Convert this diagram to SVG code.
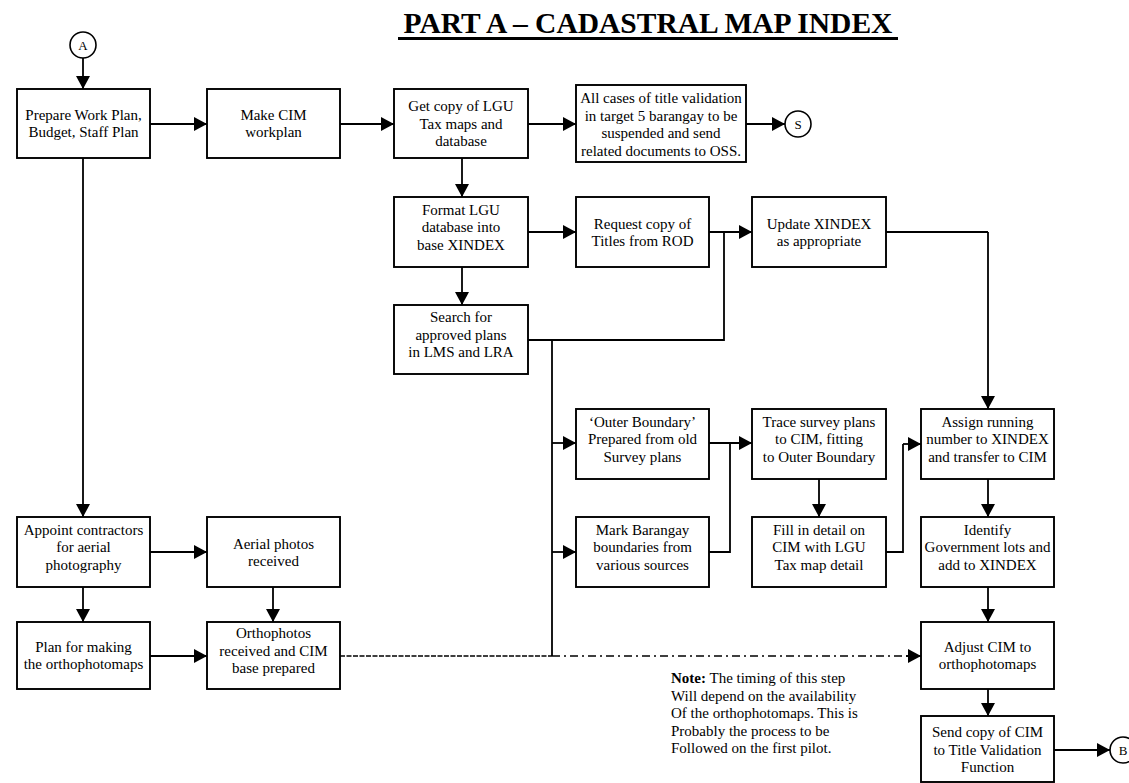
<svg xmlns="http://www.w3.org/2000/svg" width="1129" height="783" viewBox="0 0 1129 783">
  <style>
    .box { fill: #ffffff; stroke: #000000; stroke-width: 1.9; }
    .lbl { font-family: "Liberation Serif", "Times New Roman", serif; font-size: 15px; fill: #000000; text-anchor: middle; }
    .con { fill: none; stroke: #000000; stroke-width: 1.8; }
    .arr { marker-end: url(#head); }
    .dash { fill: none; stroke: #000000; stroke-width: 1.6; stroke-dasharray: 8 4 2 4; }
    .dense { fill: none; stroke: #000000; stroke-width: 1.6; stroke-dasharray: 5 1.5; }
    .circ { fill: #ffffff; stroke: #000000; stroke-width: 1.6; }
    .clbl { font-family: "Liberation Serif", "Times New Roman", serif; font-size: 13px; fill: #000000; text-anchor: middle; }
    .note { font-family: "Liberation Serif", "Times New Roman", serif; font-size: 15px; fill: #000000; }
  </style>
  <defs>
    <marker id="head" markerUnits="userSpaceOnUse" markerWidth="14" markerHeight="14" refX="13" refY="7" orient="auto">
      <path d="M0,0 L13,7 L0,14 z" fill="#000000"/>
    </marker>
  </defs>

  <rect width="1129" height="783" fill="#ffffff"/>

  <!-- title -->
  <g id="title">
    <text x="648" y="33" font-family="Liberation Serif, Times New Roman, serif" font-size="29.5" font-weight="bold" text-anchor="middle">PART A – CADASTRAL MAP INDEX</text>
    <line x1="398" y1="38.5" x2="898" y2="38.5" stroke="#000000" stroke-width="3"/>
  </g>

  <!-- connectors -->
  <g id="connectors">
    <path class="con arr" d="M83,58 V89"/>
    <path class="con arr" d="M150,124 H207"/>
    <path class="con arr" d="M340,124 H394"/>
    <path class="con arr" d="M528,124 H576"/>
    <path class="con arr" d="M746,124 H785"/>
    <path class="con arr" d="M462,158 V197"/>
    <path class="con arr" d="M528,232 H576"/>
    <path class="con arr" d="M709,232 H752"/>
    <path class="con arr" d="M462,267 V305"/>
    <path class="con" d="M528,340 H724 V232"/>
    <path class="con" d="M886,232 H988"/>
    <path class="con arr" d="M988,232 V409"/>
    <path class="con" d="M552,340 V656"/>
    <path class="con arr" d="M552,443 H576"/>
    <path class="con arr" d="M552,552 H576"/>
    <path class="con arr" d="M709,443 H752"/>
    <path class="con" d="M709,552 H730 V443"/>
    <path class="con arr" d="M819,479 V517"/>
    <path class="con" d="M886,552 H903 V444"/>
    <path class="con arr" d="M903,444 H921"/>
    <path class="con arr" d="M988,479 V517"/>
    <path class="con arr" d="M988,587 V622"/>
    <path class="con arr" d="M988,689 V716"/>
    <path class="con arr" d="M1054,750 H1110"/>
    <path class="con arr" d="M83,158 V517"/>
    <path class="con arr" d="M150,552 H207"/>
    <path class="con arr" d="M83,587 V622"/>
    <path class="con arr" d="M273,587 V622"/>
    <path class="con arr" d="M150,656 H207"/>
    <path class="dense" d="M340,656 H552"/>
    <path class="dash" d="M552,656 H908"/>
    <path class="con arr" d="M906,656 H921"/>
  </g>

  <!-- connector circles -->
  <g id="circle-a">
    <circle class="circ" cx="83" cy="45" r="13"/>
    <text class="clbl" x="83" y="49.5">A</text>
  </g>
  <g id="circle-s">
    <circle class="circ" cx="798" cy="124" r="13"/>
    <text class="clbl" x="798" y="128.5">S</text>
  </g>
  <g id="circle-b">
    <circle class="circ" cx="1123" cy="750" r="13"/>
    <text class="clbl" x="1123" y="754.5">B</text>
  </g>

  <!-- process steps -->
  <g id="prepare-work-plan">
    <rect class="box" x="17" y="89" width="133" height="69"/>
    <text class="lbl" x="83.5" y="119.5">Prepare Work Plan,</text>
    <text class="lbl" x="83.5" y="137">Budget, Staff Plan</text>
  </g>
  <g id="make-cim-workplan">
    <rect class="box" x="207" y="89" width="133" height="69"/>
    <text class="lbl" x="273.5" y="119.5">Make CIM</text>
    <text class="lbl" x="273.5" y="137">workplan</text>
  </g>
  <g id="get-copy-lgu">
    <rect class="box" x="394" y="89" width="134" height="69"/>
    <text class="lbl" x="461" y="111">Get copy of LGU</text>
    <text class="lbl" x="461" y="128.5">Tax maps and</text>
    <text class="lbl" x="461" y="146">database</text>
  </g>
  <g id="suspend-validation">
    <rect class="box" x="576" y="85" width="170" height="77"/>
    <text class="lbl" x="661" y="103" font-size="14.4">All cases of title validation</text>
    <text class="lbl" x="661" y="120.5" font-size="14.4">in target 5 barangay to be</text>
    <text class="lbl" x="661" y="138" font-size="14.4">suspended and send</text>
    <text class="lbl" x="661" y="155.5" font-size="14.4">related documents to OSS.</text>
  </g>
  <g id="format-lgu-database">
    <rect class="box" x="394" y="197" width="134" height="70"/>
    <text class="lbl" x="461" y="214.5">Format LGU</text>
    <text class="lbl" x="461" y="232">database into</text>
    <text class="lbl" x="461" y="249.5">base XINDEX</text>
  </g>
  <g id="request-titles">
    <rect class="box" x="576" y="197" width="133" height="70"/>
    <text class="lbl" x="642.5" y="228.5">Request copy of</text>
    <text class="lbl" x="642.5" y="246">Titles from ROD</text>
  </g>
  <g id="update-xindex">
    <rect class="box" x="752" y="197" width="134" height="70"/>
    <text class="lbl" x="819" y="228.5">Update XINDEX</text>
    <text class="lbl" x="819" y="246">as appropriate</text>
  </g>
  <g id="search-approved-plans">
    <rect class="box" x="394" y="305" width="134" height="69"/>
    <text class="lbl" x="461" y="322">Search for</text>
    <text class="lbl" x="461" y="339.5">approved plans</text>
    <text class="lbl" x="461" y="357">in LMS and LRA</text>
  </g>
  <g id="outer-boundary">
    <rect class="box" x="576" y="409" width="133" height="70"/>
    <text class="lbl" x="642.5" y="426.5">‘Outer Boundary’</text>
    <text class="lbl" x="642.5" y="444">Prepared from old</text>
    <text class="lbl" x="642.5" y="461.5">Survey plans</text>
  </g>
  <g id="mark-barangay">
    <rect class="box" x="576" y="517" width="133" height="70"/>
    <text class="lbl" x="642.5" y="534.5">Mark Barangay</text>
    <text class="lbl" x="642.5" y="552">boundaries from</text>
    <text class="lbl" x="642.5" y="569.5">various sources</text>
  </g>
  <g id="trace-survey-plans">
    <rect class="box" x="752" y="409" width="134" height="70"/>
    <text class="lbl" x="819" y="426.5">Trace survey plans</text>
    <text class="lbl" x="819" y="444">to CIM, fitting</text>
    <text class="lbl" x="819" y="461.5">to Outer Boundary</text>
  </g>
  <g id="fill-in-detail">
    <rect class="box" x="752" y="517" width="134" height="70"/>
    <text class="lbl" x="819" y="534.5">Fill in detail on</text>
    <text class="lbl" x="819" y="552">CIM with LGU</text>
    <text class="lbl" x="819" y="569.5">Tax map detail</text>
  </g>
  <g id="assign-running-number">
    <rect class="box" x="921" y="409" width="133" height="70"/>
    <text class="lbl" x="987.5" y="426.5">Assign running</text>
    <text class="lbl" x="987.5" y="444">number to XINDEX</text>
    <text class="lbl" x="987.5" y="461.5">and transfer to CIM</text>
  </g>
  <g id="identify-government-lots">
    <rect class="box" x="921" y="517" width="133" height="70"/>
    <text class="lbl" x="987.5" y="534.5">Identify</text>
    <text class="lbl" x="987.5" y="552">Government lots and</text>
    <text class="lbl" x="987.5" y="569.5">add to XINDEX</text>
  </g>
  <g id="adjust-cim">
    <rect class="box" x="921" y="622" width="133" height="67"/>
    <text class="lbl" x="987.5" y="651.5">Adjust CIM to</text>
    <text class="lbl" x="987.5" y="669">orthophotomaps</text>
  </g>
  <g id="send-copy-cim">
    <rect class="box" x="921" y="716" width="133" height="66"/>
    <text class="lbl" x="987.5" y="737">Send copy of CIM</text>
    <text class="lbl" x="987.5" y="754.5">to Title Validation</text>
    <text class="lbl" x="987.5" y="772">Function</text>
  </g>
  <g id="appoint-contractors">
    <rect class="box" x="17" y="517" width="133" height="70"/>
    <text class="lbl" x="83.5" y="534.5">Appoint contractors</text>
    <text class="lbl" x="83.5" y="552">for aerial</text>
    <text class="lbl" x="83.5" y="569.5">photography</text>
  </g>
  <g id="aerial-photos">
    <rect class="box" x="207" y="517" width="133" height="70"/>
    <text class="lbl" x="273.5" y="548.5">Aerial photos</text>
    <text class="lbl" x="273.5" y="566">received</text>
  </g>
  <g id="plan-orthophotomaps">
    <rect class="box" x="17" y="622" width="133" height="67"/>
    <text class="lbl" x="83.5" y="651.5">Plan for making</text>
    <text class="lbl" x="83.5" y="669">the orthophotomaps</text>
  </g>
  <g id="orthophotos-received">
    <rect class="box" x="207" y="622" width="133" height="67"/>
    <text class="lbl" x="273.5" y="638">Orthophotos</text>
    <text class="lbl" x="273.5" y="655.5">received and CIM</text>
    <text class="lbl" x="273.5" y="673">base prepared</text>
  </g>

  <!-- timing note -->
  <g id="timing-note">
    <text class="note" x="671" y="683"><tspan font-weight="bold">Note:</tspan> The timing of this step</text>
    <text class="note" x="671" y="700.5">Will depend on the availability</text>
    <text class="note" x="671" y="718">Of the orthophotomaps. This is</text>
    <text class="note" x="671" y="735.5">Probably the process to be</text>
    <text class="note" x="671" y="753">Followed on the first pilot.</text>
  </g>
</svg>
